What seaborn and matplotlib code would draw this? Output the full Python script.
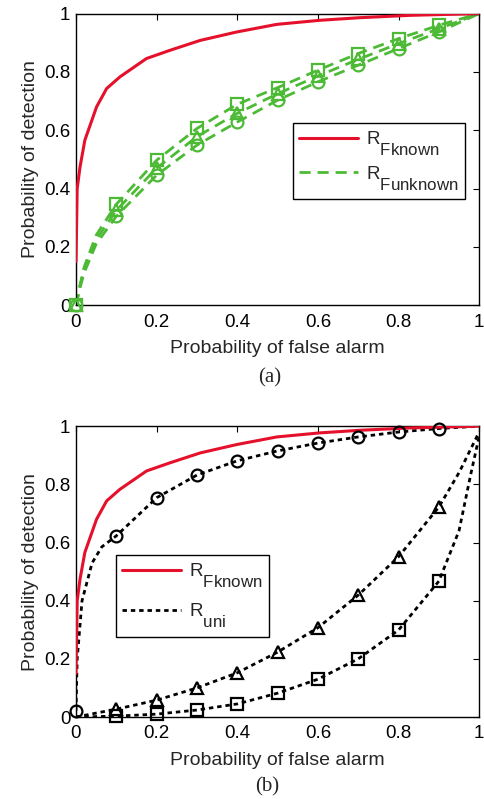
import pandas as pd
import matplotlib
matplotlib.use("Agg")
import matplotlib.pyplot as plt
import matplotlib._mathtext as mt
import seaborn as sns

# ---------------- data ----------------
# red curve, same in both panels
pf_known = [0, 0, 0.003, 0.01, 0.022, 0.035, 0.051, 0.076, 0.109, 0.175, 0.233,
            0.308, 0.399, 0.498, 0.605, 0.705, 0.829, 1.0]
pd_known = [0, 0.30, 0.40, 0.474, 0.566, 0.617, 0.68, 0.743, 0.783, 0.846, 0.874,
            0.908, 0.937, 0.963, 0.977, 0.986, 0.994, 1.0]

# panel (a): three dashed green curves (square / triangle / circle)
pf_a = [0, 0.01, 0.02, 0.05, 0.1, 0.2, 0.3, 0.4, 0.5, 0.6, 0.7, 0.8, 0.9, 1.0]
pd_a_sq = [0, 0.07, 0.13, 0.24, 0.346, 0.497, 0.606, 0.689, 0.746, 0.806, 0.863, 0.914, 0.96, 1.0]
pd_a_tri = [0, 0.065, 0.12, 0.225, 0.325, 0.47, 0.578, 0.658, 0.725, 0.786, 0.843, 0.897, 0.948, 1.0]
pd_a_ci = [0, 0.06, 0.11, 0.21, 0.305, 0.446, 0.549, 0.628, 0.703, 0.766, 0.823, 0.88, 0.937, 1.0]

# panel (b): three dotted black curves
pf_b_ci = [0, 0.003, 0.015, 0.04, 0.064, 0.1, 0.2, 0.3, 0.4, 0.5, 0.6, 0.7, 0.8, 0.9, 1.0]
pd_b_ci = [0.022, 0.2, 0.4, 0.53, 0.585, 0.623, 0.754, 0.832, 0.881, 0.915, 0.942, 0.963, 0.98, 0.992, 1.0]
pf_b_tri = [0, 0.1, 0.2, 0.3, 0.4, 0.5, 0.6, 0.7, 0.8, 0.9, 0.95, 1.0]
pd_b_tri = [0, 0.027, 0.058, 0.1, 0.152, 0.223, 0.307, 0.419, 0.551, 0.722, 0.84, 0.98]
pf_b_sq = [0, 0.1, 0.2, 0.3, 0.4, 0.5, 0.6, 0.7, 0.8, 0.9, 0.95, 0.98, 1.0]
pd_b_sq = [0, 0.003, 0.01, 0.024, 0.045, 0.082, 0.13, 0.2, 0.299, 0.467, 0.64, 0.84, 0.965]

ticks = [0, 0.2, 0.4, 0.6, 0.8, 1]
tick_labels = ["0", "0.2", "0.4", "0.6", "0.8", "1"]

RED = "#E5102B"
GREEN = "#4DBA36"

# ---------------- style ----------------
sns.set_theme(style="white")
plt.rcParams["font.family"] = ["Liberation Sans", "DejaVu Sans"]
plt.rcParams["mathtext.fontset"] = "custom"
plt.rcParams["mathtext.rm"] = "Liberation Sans"
# subscripts almost as big as the R and sitting lower, as in the original
mt.SHRINK_FACTOR = 0.9
mt.FontConstantsBase.sub1 = 1.05

fig = plt.figure(figsize=(4.84, 7.99), dpi=100)
ax_a = fig.add_axes([0.157, 0.618, 0.833, 0.365])
ax_b = fig.add_axes([0.157, 0.1026, 0.833, 0.364])


def marks(ax, x, y, marker, color, idx):
    xs = [x[i] for i in idx]
    ys = [y[i] for i in idx]
    ax.plot(xs, ys, linestyle="none", marker=marker, ms=8.5, mfc="none",
            mec=color, mew=1.6, clip_on=False, zorder=4)


def style_axes(ax):
    ax.set_xlim(0, 1)
    ax.set_ylim(0, 1)
    ax.set_xticks(ticks)
    ax.set_xticklabels(tick_labels)
    ax.set_yticks(ticks)
    ax.set_yticklabels(tick_labels)
    ax.tick_params(direction="in", length=4, width=0.8, top=True, right=True,
                   labelsize=13.5, colors="black")
    ax.tick_params(axis="x", pad=6)
    ax.tick_params(axis="y", pad=4)
    for s in ax.spines.values():
        s.set_color("black")
        s.set_linewidth(1.0)
    ax.set_xlabel("Probability of false alarm", fontsize=14, labelpad=7)
    ax.set_ylabel("Probability of detection", fontsize=14, labelpad=4)
    ax.grid(False)


def add_legend(ax, handles, labels, anchor, spacing):
    leg = ax.legend(handles, labels, loc="upper left", bbox_to_anchor=anchor,
                    borderaxespad=0, fontsize=13.5, frameon=True,
                    fancybox=False, edgecolor="black", framealpha=1,
                    handlelength=3.1, handletextpad=0.45, borderpad=0.35,
                    labelspacing=spacing)
    leg.get_frame().set_linewidth(1.0)


known_df = pd.DataFrame({"pf": pf_known, "pd": pd_known})

# ---------------- panel (a) ----------------
green_sets = [(pd_a_sq, "s"), (pd_a_tri, "^"), (pd_a_ci, "o")]
for k, (vals, mk) in enumerate(green_sets):
    df = pd.DataFrame({"pf": pf_a, "pd": vals})
    sns.lineplot(data=df, x="pf", y="pd", sort=False, color=GREEN, lw=2.0,
                 ax=ax_a, linestyle=(0, (4, 2.5)),
                 label=r"R$_{\mathregular{Funknown}}$" if k == 0 else None)
    marks(ax_a, pf_a, vals, mk, GREEN, [0] + list(range(4, 13)))
sns.lineplot(data=known_df, x="pf", y="pd", sort=False, color=RED, lw=2.2,
             ax=ax_a, label=r"R$_{\mathregular{Fknown}}$", zorder=3)
style_axes(ax_a)
h, l = ax_a.get_legend_handles_labels()
add_legend(ax_a, h[::-1], l[::-1], (0.538, 0.624), 0.3)

# ---------------- panel (b) ----------------
sns.lineplot(data=known_df, x="pf", y="pd", sort=False, color=RED, lw=2.2,
             ax=ax_b, label=r"R$_{\mathregular{Fknown}}$", zorder=3)
black_sets = [(pf_b_ci, pd_b_ci, "o", [0] + list(range(5, 14))),
              (pf_b_tri, pd_b_tri, "^", list(range(1, 10))),
              (pf_b_sq, pd_b_sq, "s", list(range(1, 10)))]
for k, (xv, yv, mk, idx) in enumerate(black_sets):
    df = pd.DataFrame({"pf": xv, "pd": yv})
    sns.lineplot(data=df, x="pf", y="pd", sort=False, color="black", lw=2.0,
                 ax=ax_b, linestyle=(0, (1.6, 1.4)),
                 label=r"R$_{\mathregular{uni}}$" if k == 0 else None)
    marks(ax_b, xv, yv, mk, "black", idx)
style_axes(ax_b)
h, l = ax_b.get_legend_handles_labels()
add_legend(ax_b, h, l, (0.099, 0.557), 0.6)

fig.text(0.558, 0.527, "(a)", ha="center", va="center", fontsize=15,
         family="Liberation Serif")
fig.text(0.552, 0.015, "(b)", ha="center", va="center", fontsize=15,
         family="Liberation Serif")

fig.savefig("out.png", dpi=100)
